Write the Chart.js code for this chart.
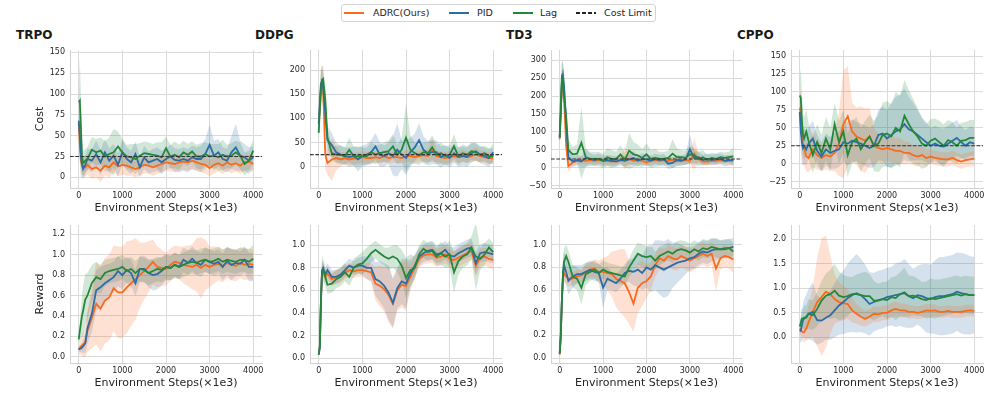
<!DOCTYPE html>
<html>
<head>
<meta charset="utf-8">
<script src="https://cdn.jsdelivr.net/npm/chart.js@4.4.0/dist/chart.umd.min.js"></script>
<style>
    body { margin: 0; width: 996px; height: 399px; background: #fff; position: relative; overflow: hidden; font-family: "DejaVu Sans", sans-serif; }
    canvas { position: absolute; }
    .titulo { position: absolute; top: 29px; font-size: 12px; font-weight: bold; color: #1a1a1a; line-height: 1; }
    #legenda { position: absolute; left: 341px; top: 4px; width: 315px; height: 18px; box-sizing: border-box; border: 1px solid #d4d4d4; border-radius: 3px; background: #fff; }
    .amostra { position: absolute; top: 7px; width: 20px; height: 1.6px; }
    .rotulo { position: absolute; top: 2.5px; font-size: 9.5px; line-height: 1; color: #262626; white-space: nowrap; }
</style>
</head>
<body>
<div id="legenda">
    <span class="amostra" style="left:2px;background:#f86a1e"></span><span class="rotulo" style="left:31px">ADRC(Ours)</span>
    <span class="amostra" style="left:107px;background:#2d6ca5"></span><span class="rotulo" style="left:135px">PID</span>
    <span class="amostra" style="left:171px;background:#23883a"></span><span class="rotulo" style="left:198px">Lag</span>
    <span class="amostra" style="left:234px;background:repeating-linear-gradient(90deg,#222 0 4px,transparent 4px 6px)"></span><span class="rotulo" style="left:262px">Cost Limit</span>
</div>
<div class="titulo" style="left:16px">TRPO</div>
<div class="titulo" style="left:255px">DDPG</div>
<div class="titulo" style="left:506px">TD3</div>
<div class="titulo" style="left:737px">CPPO</div>

<canvas id="custoTrpo"></canvas>
<canvas id="custoDdpg"></canvas>
<canvas id="custoTd3"></canvas>
<canvas id="custoCppo"></canvas>
<canvas id="recTrpo"></canvas>
<canvas id="recDdpg"></canvas>
<canvas id="recTd3"></canvas>
<canvas id="recCppo"></canvas>

<script>
// passos de ambiente (x1e3)
const passos = [0,25,50,75,100,150,200,300,400,500,600,700,800,900,1000,1100,1200,1300,1400,1500,1600,1700,1800,1900,2000,2100,2200,2300,2400,2500,2600,2700,2800,2900,3000,3100,3200,3300,3400,3500,3600,3700,3800,3900,4000];
const ticksX = [0, 1000, 2000, 3000, 4000];
const limiteCusto = 25;
const metodos = ['ADRC(Ours)', 'PID', 'Lag'];

// ---- custo ----
const custoTrpoAdrc = [65,40,20,15,14,12,15, 10,12,8,14,12,18,13,15,14,12, 10,12,15,14,12,14,16,18,17,16, 18,19,18,20,18,16,15,11,15,17, 14,18,15,17,14,18,19,16];
const custoTrpoPid = [68,50,25,15,10,15,22, 20,28,18,30,20,26,15,30,22,18, 28,12,24,18,20,22,18,22,25,21, 20,22,20,24,22,22,28,39,26,30, 22,20,30,36,26,24,20,24];
const custoTrpoLag = [90,92,60,25,17,20,22, 33,30,32,25,28,30,37,30,25,24, 22,26,29,28,27,26,24,35,25,27, 24,30,27,31,25,25,28,25,26,24, 27,25,26,30,26,16,20,32];
const custoTrpoAdrcDp = [10,20,15,12,12,12,12, 12,12,14,12,12,12,12,12,12,10, 10,10,10,10,10,10,10,10,10,10, 10,10,10,10,10,10,10,10,10,10, 10,10,10,10,10,10,10,10];
const custoTrpoPidDp = [15,30,25,15,12,12,12, 14,16,15,16,15,14,14,15,14,14, 15,12,14,13,14,14,14,13,14,14, 14,14,14,14,14,16,18,24,18,16, 14,14,20,28,18,16,16,14];
const custoTrpoLagDp = [20,50,40,20,15,14,14, 15,16,16,18,20,28,18,16,14,16, 18,15,14,14,13,16,18,14,14,16, 15,14,13,12,14,16,14,15,14,16, 18,14,15,14,16,14,12,14];

const custoDdpgAdrc = [88,120,160,170,165,25,8, 15,18,15,18,15,17,18,20,18,18, 20,18,22,18,20,20,18,22,22,20, 22,24,22,35,22,20,18,20,22,20, 24,20,22,26,22,20,18,18];
const custoDdpgPid = [90,135,172,176,165,110,55, 45,30,25,22,20,22,15,22,25,30, 42,25,22,28,22,35,25,18,30,40, 55,35,28,30,30,20,25,18,28,20, 22,20,28,32,25,22,18,30];
const custoDdpgLag = [70,120,160,180,182,140,60, 28,25,25,22,35,22,22,22,22,30, 25,28,30,32,42,25,35,60,35,28, 24,30,28,40,25,28,22,25,42,22, 28,25,32,30,25,28,22,22];
const custoDdpgAdrcDp = [15,30,40,40,40,30,25, 45,25,15,12,12,12,12,12,12,12, 12,12,12,12,12,12,12,12,12,12, 12,12,12,25,12,12,12,12,12,12, 12,12,12,14,12,12,12,12];
const custoDdpgPidDp = [20,30,30,25,25,40,30, 25,20,18,18,20,20,25,22,22,25, 28,25,22,22,40,55,30,35,30,28, 35,28,25,25,25,22,20,20,20,20, 20,20,20,18,18,18,18,18];
const custoDdpgLagDp = [20,30,35,30,25,30,20, 15,18,20,18,25,20,20,18,18,20, 20,18,20,22,25,20,25,70,30,22, 20,20,22,25,20,22,20,20,25,18, 18,18,18,18,16,16,16,16];

const custoTd3Adrc = [80,150,230,240,200,60,5, 15,20,22,20,22,20,22,20,20,18, 20,22,28,25,20,22,20,15,20,22, 20,22,20,22,20,20,22,20,40,25, 18,18,20,20,22,20,20,20];
const custoTd3Pid = [85,150,240,258,230,120,30, 18,22,18,28,25,22,25,20,22,20, 18,22,20,24,28,20,25,24,20,25, 22,24,12,14,22,20,24,52,28,30, 22,25,22,24,25,20,22,22];
const custoTd3Lag = [85,180,250,240,200,140,50, 38,40,70,30,25,25,25,20,30,25, 25,38,22,48,38,35,28,38,25,28, 25,25,28,40,30,30,28,38,35,25, 30,22,28,25,30,28,30,32];
const custoTd3AdrcDp = [15,30,40,40,40,30,15, 10,10,10,10,10,10,10,10,10,10, 10,10,30,15,10,10,10,10,10,10, 10,10,10,10,10,10,10,10,45,12, 10,10,10,10,10,10,10,10];
const custoTd3PidDp = [20,40,50,40,40,40,20, 15,15,15,25,15,15,15,15,15,15, 15,15,15,15,20,15,15,15,15,15, 15,15,15,15,15,15,15,40,20,15, 15,15,15,15,15,15,15,15];
const custoTd3LagDp = [20,40,50,50,50,50,30, 20,25,100,25,20,20,20,20,25,25, 20,25,20,50,35,30,25,30,25,25, 20,20,20,40,25,20,20,25,20,20, 20,15,15,15,15,15,15,25];

const custoCppoAdrc = [78,70,40,25,22,10,8, 20,12,8,12,10,15,28,55,66,45, 38,35,32,38,25,22,20,22,20,18, 18,15,15,12,10,12,8,10,8,7, 6,6,8,5,3,5,6,7];
const custoCppoPid = [72,45,30,22,25,20,28, 35,18,10,20,15,18,20,30,28,32, 30,28,25,22,25,40,42,35,40,45, 48,55,48,45,40,35,30,25,28,25, 24,28,32,36,30,25,30,28];
const custoCppoLag = [95,92,60,40,35,45,32, 12,30,15,35,20,55,30,45,12,30, 35,20,30,38,25,28,40,42,38,50, 45,67,55,45,38,28,25,32,35,30, 25,33,30,25,32,33,36,36];
const custoCppoAdrcDp = [20,30,30,25,25,20,20, 25,20,18,20,20,25,45,75,70,40, 40,45,45,40,25,20,20,18,18,18, 18,16,15,14,14,12,12,10,10,10, 10,10,10,10,10,10,10,10];
const custoCppoPidDp = [20,30,30,25,25,22,22, 25,22,20,22,22,25,25,28,30,30, 28,28,28,28,30,35,38,40,45,48, 48,50,45,40,35,30,28,25,25,25, 25,25,25,25,22,22,22,22];
const custoCppoLagDp = [25,40,40,30,30,30,25, 25,25,25,30,30,30,30,30,30,30, 30,30,30,30,35,40,45,45,45,50, 50,50,48,45,40,35,30,30,28,30, 30,28,28,25,25,25,25,25];

// ---- recompensa ----
const recTrpoAdrc = [0.07,0.08,0.10,0.11,0.12,0.14,0.25, 0.38,0.52,0.47,0.55,0.58,0.67,0.63,0.63,0.68,0.72, 0.76,0.80,0.84,0.88,0.93,0.88,0.87,0.86,0.90,0.93, 0.92,0.90,0.89,0.88,0.90,0.87,0.90,0.88,0.90,0.91, 0.89,0.92,0.90,0.89,0.92,0.90,0.91,0.90];
const recTrpoPid = [0.07,0.08,0.08,0.09,0.10,0.13,0.28, 0.42,0.65,0.68,0.72,0.75,0.78,0.84,0.80,0.85,0.82, 0.72,0.86,0.86,0.82,0.80,0.81,0.84,0.88,0.87,0.90, 0.88,0.95,0.92,0.96,0.92,0.90,0.95,0.93,0.91,0.93, 0.88,0.94,0.90,0.92,0.91,0.95,0.88,0.88];
const recTrpoLag = [0.17,0.25,0.33,0.40,0.45,0.56,0.60, 0.72,0.78,0.76,0.82,0.84,0.85,0.86,0.88,0.84,0.86, 0.82,0.86,0.85,0.82,0.84,0.86,0.85,0.88,0.87,0.90, 0.88,0.90,0.92,0.93,0.92,0.94,0.95,0.93,0.94,0.96, 0.93,0.95,0.94,0.93,0.95,0.95,0.93,0.96];
const recTrpoAdrcDp = [0.05,0.06,0.08,0.10,0.12,0.15,0.20, 0.30,0.40,0.42,0.42,0.42,0.42,0.45,0.45,0.45,0.42, 0.40,0.32,0.28,0.25,0.22,0.20,0.18,0.16,0.16,0.16, 0.16,0.18,0.20,0.22,0.26,0.30,0.25,0.20,0.18,0.16, 0.16,0.15,0.15,0.15,0.15,0.15,0.15,0.15];
const recTrpoPidDp = [0.03,0.03,0.04,0.05,0.06,0.10,0.15, 0.18,0.20,0.20,0.18,0.16,0.15,0.15,0.14,0.13,0.13, 0.13,0.13,0.13,0.14,0.15,0.15,0.14,0.13,0.12,0.12, 0.12,0.12,0.12,0.12,0.12,0.12,0.12,0.12,0.12,0.12, 0.13,0.14,0.15,0.13,0.12,0.13,0.14,0.14];
const recTrpoLagDp = [0.05,0.10,0.15,0.20,0.25,0.25,0.22, 0.18,0.15,0.14,0.13,0.12,0.12,0.12,0.12,0.12,0.12, 0.12,0.12,0.12,0.12,0.12,0.12,0.12,0.12,0.12,0.12, 0.12,0.12,0.12,0.12,0.12,0.12,0.12,0.12,0.12,0.12, 0.12,0.12,0.12,0.12,0.12,0.12,0.12,0.14];

const recDdpgAdrc = [0.03,0.10,0.50,0.76,0.78,0.72,0.75, 0.70,0.72,0.73,0.76,0.78,0.77,0.78,0.78,0.77,0.76, 0.66,0.64,0.61,0.56,0.48,0.60,0.65,0.64,0.72,0.80, 0.88,0.91,0.92,0.92,0.89,0.90,0.92,0.88,0.87,0.89, 0.91,0.93,0.95,0.82,0.89,0.90,0.88,0.87];
const recDdpgPid = [0.03,0.10,0.50,0.78,0.80,0.74,0.78, 0.72,0.72,0.74,0.78,0.82,0.80,0.82,0.82,0.80,0.80, 0.70,0.68,0.64,0.58,0.49,0.62,0.68,0.66,0.75,0.82, 0.90,0.93,0.95,0.96,0.92,0.93,0.96,0.91,0.90,0.93, 0.95,0.97,0.98,0.84,0.93,0.94,0.93,0.92];
const recDdpgLag = [0.03,0.10,0.50,0.76,0.78,0.72,0.65, 0.66,0.70,0.72,0.76,0.72,0.80,0.83,0.84,0.88,0.93, 0.96,0.93,0.90,0.88,0.90,0.88,0.82,0.71,0.78,0.80, 0.92,0.97,0.94,0.95,0.90,0.93,0.90,0.92,0.76,0.86, 0.90,0.92,0.98,0.90,0.88,0.92,0.98,0.94];
const recDdpgAdrcDp = [0.01,0.05,0.10,0.08,0.06,0.06,0.06, 0.06,0.06,0.06,0.06,0.06,0.06,0.06,0.06,0.07,0.08, 0.15,0.18,0.20,0.24,0.22,0.18,0.20,0.22,0.12,0.10, 0.08,0.08,0.08,0.08,0.08,0.08,0.08,0.08,0.08,0.08, 0.08,0.08,0.08,0.10,0.08,0.08,0.08,0.08];
const recDdpgPidDp = [0.01,0.05,0.10,0.08,0.06,0.06,0.06, 0.06,0.06,0.06,0.06,0.06,0.06,0.07,0.08,0.10,0.12, 0.15,0.18,0.20,0.24,0.22,0.18,0.20,0.22,0.12,0.10, 0.08,0.08,0.08,0.08,0.08,0.08,0.08,0.08,0.08,0.08, 0.08,0.08,0.08,0.10,0.08,0.08,0.08,0.08];
const recDdpgLagDp = [0.01,0.05,0.15,0.15,0.10,0.08,0.08, 0.08,0.08,0.08,0.08,0.08,0.08,0.08,0.10,0.10,0.08, 0.08,0.08,0.08,0.10,0.10,0.12,0.14,0.18,0.14,0.10, 0.08,0.08,0.08,0.08,0.08,0.10,0.10,0.12,0.18,0.12, 0.10,0.10,0.10,0.30,0.10,0.10,0.08,0.08];

const recTd3Adrc = [0.03,0.20,0.50,0.70,0.75,0.72,0.70, 0.70,0.72,0.73,0.76,0.78,0.79,0.76,0.76,0.75,0.74, 0.70,0.68,0.66,0.58,0.48,0.62,0.66,0.68,0.72,0.82, 0.88,0.86,0.90,0.88,0.87,0.90,0.88,0.86,0.88,0.90, 0.92,0.90,0.92,0.79,0.88,0.90,0.89,0.87];
const recTd3Pid = [0.04,0.20,0.50,0.72,0.82,0.76,0.68, 0.72,0.74,0.74,0.76,0.78,0.76,0.75,0.62,0.70,0.68, 0.66,0.70,0.75,0.77,0.76,0.78,0.75,0.80,0.78,0.82, 0.80,0.78,0.80,0.82,0.84,0.85,0.86,0.88,0.89,0.92, 0.94,0.93,0.95,0.96,0.96,0.97,0.97,0.98];
const recTd3Lag = [0.04,0.20,0.50,0.75,0.85,0.90,0.85, 0.72,0.70,0.62,0.74,0.76,0.78,0.75,0.78,0.76,0.75, 0.74,0.73,0.72,0.80,0.86,0.92,0.90,0.89,0.90,0.86, 0.90,0.92,0.94,0.92,0.95,0.96,0.95,0.93,0.96,0.94, 0.97,0.96,0.98,0.97,0.96,0.96,0.97,0.94];
const recTd3AdrcDp = [0.02,0.05,0.10,0.10,0.08,0.07,0.07, 0.06,0.06,0.06,0.06,0.07,0.08,0.10,0.12,0.15,0.20, 0.25,0.28,0.30,0.28,0.25,0.22,0.20,0.15,0.12,0.10, 0.10,0.10,0.10,0.10,0.10,0.10,0.10,0.10,0.10,0.10, 0.10,0.10,0.10,0.20,0.10,0.10,0.10,0.12];
const recTd3PidDp = [0.02,0.05,0.10,0.12,0.12,0.12,0.12, 0.10,0.08,0.08,0.08,0.08,0.08,0.08,0.18,0.10,0.08, 0.08,0.08,0.08,0.10,0.12,0.15,0.15,0.18,0.20,0.22, 0.24,0.25,0.25,0.20,0.18,0.15,0.12,0.10,0.10,0.10, 0.10,0.10,0.10,0.10,0.08,0.08,0.08,0.08];
const recTd3LagDp = [0.02,0.05,0.12,0.15,0.12,0.10,0.10, 0.10,0.10,0.15,0.10,0.08,0.08,0.08,0.08,0.08,0.08, 0.08,0.08,0.08,0.08,0.10,0.10,0.10,0.10,0.10,0.08, 0.08,0.08,0.08,0.08,0.08,0.08,0.08,0.08,0.08,0.08, 0.08,0.08,0.08,0.08,0.08,0.08,0.08,0.08];

const recCppoAdrc = [0.18,0.15,0.12,0.10,0.10,0.18,0.30, 0.52,0.72,0.82,0.93,0.88,0.78,0.72,0.70,0.68,0.55, 0.48,0.42,0.38,0.42,0.48,0.47,0.50,0.50,0.55,0.58, 0.55,0.55,0.52,0.52,0.50,0.52,0.55,0.54,0.55,0.52, 0.52,0.54,0.52,0.52,0.52,0.54,0.55,0.54];
const recCppoPid = [0.12,0.14,0.25,0.35,0.38,0.42,0.48, 0.52,0.35,0.34,0.40,0.45,0.55,0.65,0.72,0.80,0.86, 0.90,0.86,0.78,0.68,0.72,0.76,0.78,0.82,0.84,0.86, 0.88,0.90,0.84,0.80,0.86,0.84,0.80,0.78,0.82,0.84, 0.84,0.86,0.88,0.93,0.90,0.88,0.86,0.86];
const recCppoLag = [0.22,0.30,0.38,0.38,0.40,0.40,0.48, 0.45,0.58,0.75,0.85,0.88,0.95,0.85,0.82,0.84,0.88, 0.88,0.86,0.84,0.84,0.75,0.75,0.78,0.76,0.82,0.80, 0.88,0.92,0.84,0.85,0.82,0.78,0.76,0.80,0.78,0.80, 0.82,0.84,0.86,0.88,0.85,0.88,0.86,0.86];
const recCppoAdrcDp = [0.10,0.12,0.15,0.20,0.20,0.25,0.35, 0.50,0.90,1.20,1.15,0.80,0.50,0.40,0.35,0.30,0.25, 0.20,0.18,0.16,0.16,0.16,0.15,0.15,0.15,0.15,0.15, 0.14,0.14,0.14,0.13,0.13,0.13,0.13,0.13,0.12,0.12, 0.12,0.12,0.12,0.12,0.12,0.12,0.12,0.12];
const recCppoPidDp = [0.20,0.25,0.30,0.35,0.40,0.45,0.50, 0.60,0.50,0.45,0.45,0.50,0.55,0.60,0.65,0.70,0.75, 0.80,0.75,0.70,0.65,0.60,0.60,0.60,0.60,0.60,0.65, 0.65,0.70,0.65,0.60,0.60,0.65,0.70,0.70,0.75,0.80, 0.80,0.80,0.80,0.80,0.82,0.82,0.80,0.78];
const recCppoLagDp = [0.10,0.15,0.20,0.20,0.25,0.25,0.30, 0.30,0.35,0.40,0.45,0.50,0.55,0.50,0.45,0.40,0.35, 0.40,0.45,0.50,0.45,0.40,0.35,0.35,0.38,0.40,0.45, 0.45,0.50,0.42,0.40,0.38,0.35,0.38,0.40,0.40,0.38, 0.38,0.38,0.38,0.38,0.38,0.38,0.38,0.38];

// ticks do eixo y
const ticksCustoTrpo = [0, 25, 50, 75, 100, 125, 150];
const ticksCustoDdpg = [0, 50, 100, 150, 200];
const ticksCustoTd3 = [-50, 0, 50, 100, 150, 200, 250, 300];
const ticksCustoCppo = [-25, 0, 25, 50, 75, 100, 125, 150];
const ticksRec = [0, 0.2, 0.4, 0.6, 0.8, 1.0, 1.2];
const ticksRecCurto = [0, 0.2, 0.4, 0.6, 0.8, 1.0];
const ticksRecCppo = [0, 0.5, 1.0, 1.5, 2.0];

const cores = ['#f86a1e', '#2d6ca5', '#23883a'];
const coresFaixa = ['rgba(248,106,30,0.2)', 'rgba(45,108,165,0.2)', 'rgba(35,136,58,0.2)'];
const fonte = '"DejaVu Sans", sans-serif';
const corTexto = '#262626';
const corGrade = '#dadada';
const limitesX = [-200, 4200];

function pontos(valores) {
    return valores.map((v, i) => ({ x: passos[i], y: v }));
}

function faixa(media, dp, sinal) {
    return media.map((v, i) => ({ x: passos[i], y: v + sinal * dp[i] }));
}

function formatar(valor, casas) {
    return Number(valor).toFixed(casas).replace('-', '\u2212');
}

function criarGrafico(id, caixa, cfg) {
    const canvas = document.getElementById(id);
    canvas.width = caixa.r - caixa.l + 75;
    canvas.height = caixa.b - caixa.t + 45;
    canvas.style.left = (caixa.l - 70) + 'px';
    canvas.style.top = (caixa.t - 10) + 'px';

    const datasets = [];
    for (let m = 0; m < 3; m++) {
        datasets.push({ data: faixa(cfg.medias[m], cfg.dps[m], -1), borderWidth: 0, borderColor: 'rgba(0,0,0,0)', pointRadius: 0, fill: false, order: 10 });
        datasets.push({ data: faixa(cfg.medias[m], cfg.dps[m], 1), borderWidth: 0, borderColor: 'rgba(0,0,0,0)', backgroundColor: coresFaixa[m], pointRadius: 0, fill: '-1', order: 10 });
    }
    for (let m = 0; m < 3; m++) {
        datasets.push({ label: metodos[m], data: pontos(cfg.medias[m]), borderColor: cores[m], borderWidth: 1.8, pointRadius: 0, fill: false, order: 4 - m });
    }
    if (cfg.limite) {
        datasets.push({ label: 'Cost Limit', data: [{ x: limitesX[0], y: limiteCusto }, { x: limitesX[1], y: limiteCusto }], borderColor: '#333', borderWidth: 1.1, borderDash: [3.7, 1.6], pointRadius: 0, fill: false, order: 0 });
    }

    new Chart(canvas, {
        type: 'line',
        data: { datasets: datasets },
        options: {
            responsive: false,
            animation: false,
            layout: { padding: { left: 0, top: 10, right: 5, bottom: 0 } },
            elements: { line: { tension: 0 } },
            plugins: { legend: { display: false }, tooltip: { enabled: false } },
            scales: {
                x: {
                    type: 'linear', min: limitesX[0], max: limitesX[1],
                    afterBuildTicks: s => { s.ticks = ticksX.map(v => ({ value: v })); },
                    afterFit: s => { s.height = 35; },
                    grid: { color: corGrade, lineWidth: 1, drawTicks: false },
                    border: { color: '#d2d2d2' },
                    ticks: { font: { family: fonte, size: 8 }, color: corTexto, padding: 3, maxRotation: 0, autoSkip: false, callback: v => String(v) },
                    title: { display: true, text: 'Environment Steps(×1e3)', font: { family: fonte, size: 11 }, color: corTexto, padding: { top: 0, bottom: 8 } }
                },
                y: {
                    type: 'linear', min: cfg.yMin, max: cfg.yMax,
                    afterBuildTicks: s => { s.ticks = cfg.ticks.map(v => ({ value: v })); },
                    afterFit: s => { s.width = 70; },
                    grid: { color: corGrade, lineWidth: 1, drawTicks: false },
                    border: { color: '#d2d2d2' },
                    ticks: { font: { family: fonte, size: 8 }, color: corTexto, padding: 5, autoSkip: false, callback: v => formatar(v, cfg.casas) },
                    title: { display: !!cfg.tituloY, text: cfg.tituloY || '', font: { family: fonte, size: 11 }, color: corTexto, padding: { top: 34, bottom: 0 } }
                }
            }
        }
    });
}

const linhaCima = { t: 50, b: 188 };
const linhaBaixo = { t: 225, b: 363 };
const colunas = [{ l: 70, r: 262 }, { l: 310, r: 502 }, { l: 551, r: 742 }, { l: 791, r: 983 }];

criarGrafico('custoTrpo', { ...colunas[0], ...linhaCima }, {
    medias: [custoTrpoAdrc, custoTrpoPid, custoTrpoLag], dps: [custoTrpoAdrcDp, custoTrpoPidDp, custoTrpoLagDp],
    yMin: -12.8, yMax: 152.8, ticks: ticksCustoTrpo, casas: 0, tituloY: 'Cost', limite: true
});
criarGrafico('custoDdpg', { ...colunas[1], ...linhaCima }, {
    medias: [custoDdpgAdrc, custoDdpgPid, custoDdpgLag], dps: [custoDdpgAdrcDp, custoDdpgPidDp, custoDdpgLagDp],
    yMin: -44, yMax: 241.4, ticks: ticksCustoDdpg, casas: 0, limite: true
});
criarGrafico('custoTd3', { ...colunas[2], ...linhaCima }, {
    medias: [custoTd3Adrc, custoTd3Pid, custoTd3Lag], dps: [custoTd3AdrcDp, custoTd3PidDp, custoTd3LagDp],
    yMin: -55.6, yMax: 327.8, ticks: ticksCustoTd3, casas: 0, limite: true
});
criarGrafico('custoCppo', { ...colunas[3], ...linhaCima }, {
    medias: [custoCppoAdrc, custoCppoPid, custoCppoLag], dps: [custoCppoAdrcDp, custoCppoPidDp, custoCppoLagDp],
    yMin: -33.8, yMax: 158.4, ticks: ticksCustoCppo, casas: 0, limite: true
});
criarGrafico('recTrpo', { ...colunas[0], ...linhaBaixo }, {
    medias: [recTrpoAdrc, recTrpoPid, recTrpoLag], dps: [recTrpoAdrcDp, recTrpoPidDp, recTrpoLagDp],
    yMin: -0.062, yMax: 1.291, ticks: ticksRec, casas: 1, tituloY: 'Reward'
});
criarGrafico('recDdpg', { ...colunas[1], ...linhaBaixo }, {
    medias: [recDdpgAdrc, recDdpgPid, recDdpgLag], dps: [recDdpgAdrcDp, recDdpgPidDp, recDdpgLagDp],
    yMin: -0.044, yMax: 1.18, ticks: ticksRecCurto, casas: 1
});
criarGrafico('recTd3', { ...colunas[2], ...linhaBaixo }, {
    medias: [recTd3Adrc, recTd3Pid, recTd3Lag], dps: [recTd3AdrcDp, recTd3PidDp, recTd3LagDp],
    yMin: -0.044, yMax: 1.174, ticks: ticksRecCurto, casas: 1
});
criarGrafico('recCppo', { ...colunas[3], ...linhaBaixo }, {
    medias: [recCppoAdrc, recCppoPid, recCppoLag], dps: [recCppoAdrcDp, recCppoPidDp, recCppoLagDp],
    yMin: -0.524, yMax: 2.292, ticks: ticksRecCppo, casas: 1
});
</script>
</body>
</html>
